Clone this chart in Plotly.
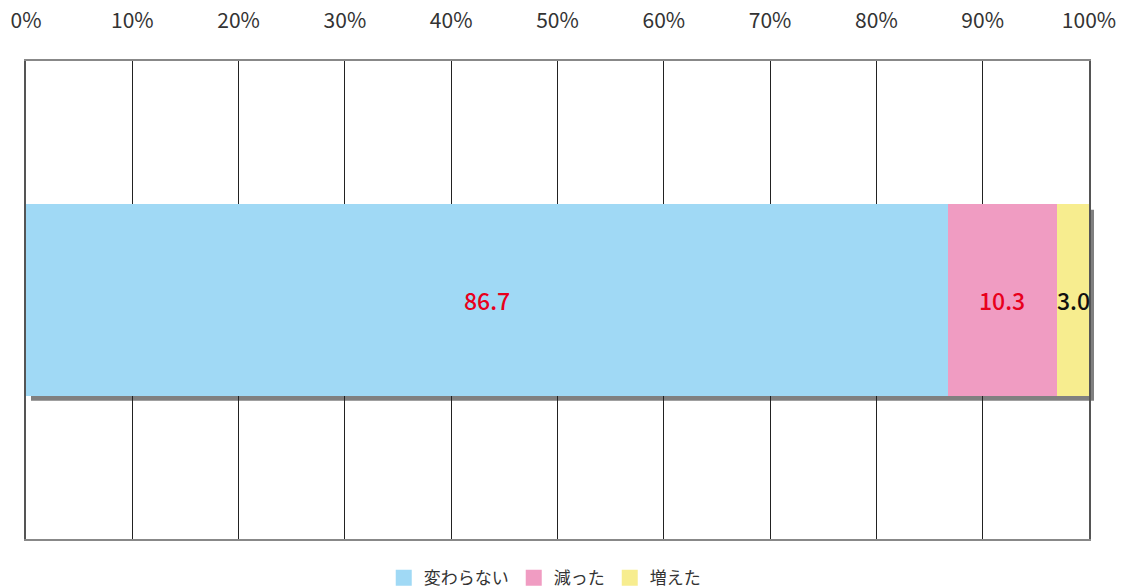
import plotly.graph_objects as go

categories = [""]
series_names = ["変わらない", "減った", "増えた"]
series_values = [[86.7], [10.3], [3.0]]
series_colors = ["#A0D9F5", "#F09CC2", "#F7ED8F"]
label_colors = ["#E8001C", "#E8001C", "#111111"]
tick_vals = [0, 10, 20, 30, 40, 50, 60, 70, 80, 90, 100]
tick_text = ["0%", "10%", "20%", "30%", "40%", "50%", "60%", "70%", "80%", "90%", "100%"]

FONT = "Noto Sans CJK JP"
bar_w = 0.4
x_range = [0, 100]
y_range = [-0.5, 0.5]

fig = go.Figure()
cum = 0.0
for name, vals, col, lc in zip(series_names, series_values, series_colors, label_colors):
    fig.add_trace(go.Bar(
        y=categories, x=vals, name=name, orientation="h", width=bar_w,
        marker=dict(color=col, line=dict(width=0)),
        textposition="none", hoverinfo="x+name", showlegend=False,
    ))
    # legend proxy with a larger square swatch
    fig.add_trace(go.Scatter(
        x=[None], y=[None], mode="markers", name=name,
        marker=dict(symbol="square", size=20, color=col), showlegend=True,
    ))
    v = vals[0]
    fig.add_annotation(x=cum + v / 2, y=0, xref="x", yref="y", text=f"{v:.1f}",
                       showarrow=False, font=dict(color=lc, size=23, family=FONT, weight=500),
                       xanchor="center", yanchor="middle")
    cum += v

# drop shadow behind the stacked bar (paper coords so it isn't clipped)
total = sum(v[0] for v in series_values)
xspan = x_range[1] - x_range[0]
yspan = y_range[1] - y_range[0]
dx = 0.47
dy = 0.011
fig.add_shape(type="rect", xref="paper", yref="paper",
              x0=(dx - x_range[0]) / xspan, x1=(total + dx - x_range[0]) / xspan,
              y0=(-bar_w / 2 - dy - y_range[0]) / yspan, y1=(bar_w / 2 - dy - y_range[0]) / yspan,
              fillcolor="#808080", line=dict(width=0), layer="below")

fig.update_layout(
    width=1126, height=588,
    margin=dict(l=26, r=37, t=61, b=49, autoexpand=False),
    barmode="stack",
    plot_bgcolor="rgba(0,0,0,0)", paper_bgcolor="white",
    font=dict(family=FONT, color="#333333"),
    showlegend=True,
    legend=dict(orientation="h", x=0.488, xanchor="center", y=-0.082, yanchor="middle",
                font=dict(size=17, color="#333333", family=FONT),
                itemwidth=30, traceorder="normal", itemsizing="trace"),
    xaxis=dict(range=x_range, side="top", tickvals=tick_vals, ticktext=tick_text,
               tickfont=dict(size=21, color="#333333", family=FONT),
               showgrid=True, gridcolor="#222222", gridwidth=1,
               showline=True, linecolor="#888888", linewidth=2, mirror=True,
               zeroline=False, ticks="", ticklabelstandoff=23, automargin=False,
               fixedrange=True),
    yaxis=dict(range=y_range, showticklabels=False, showgrid=False,
               showline=True, linecolor="#555555", linewidth=2, mirror=True,
               zeroline=False, ticks="", automargin=False, fixedrange=True),
)

fig.write_html("out.html", config={"displayModeBar": False},
               post_script="document.body.style.margin='0';document.body.style.overflow='hidden';")
